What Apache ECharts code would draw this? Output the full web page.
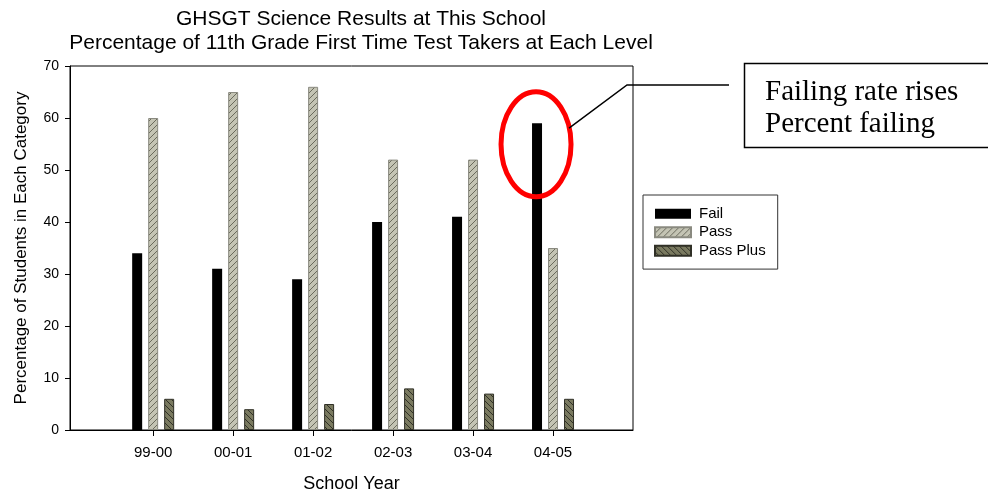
<!DOCTYPE html>
<html>
<head>
<meta charset="utf-8">
<script src="https://cdn.jsdelivr.net/npm/echarts@6/dist/echarts.min.js"></script>
<style>
  html, body { margin: 0; padding: 0; background: #fff; }
  #chart { width: 988px; height: 491px; }
</style>
</head>
<body>
<div id="chart"></div>
<script>
// School years on the x axis
var years = ['99-00', '00-01', '01-02', '02-03', '03-04', '04-05'];
// Percent of first-time 11th grade test takers at each level
var failPct = [34, 31, 29, 40, 41, 59];
var passPct = [60, 65, 66, 52, 52, 35];
var passPlusPct = [6, 4, 5, 8, 7, 6];
var yTicks = [0, 10, 20, 30, 40, 50, 60, 70];

// Hatched fills built on small tiles
function hatch(bg, fg, dir) {
  var c = document.createElement('canvas');
  c.width = 6; c.height = 6;
  var g = c.getContext('2d');
  g.fillStyle = bg; g.fillRect(0, 0, 6, 6);
  g.strokeStyle = fg; g.lineWidth = 1;
  g.beginPath();
  if (dir > 0) {
    g.moveTo(-1, 7); g.lineTo(7, -1);
    g.moveTo(-4, 4); g.lineTo(4, -4);
    g.moveTo(2, 10); g.lineTo(10, 2);
  } else {
    g.moveTo(-1, -1); g.lineTo(7, 7);
    g.moveTo(-4, 2); g.lineTo(4, 10);
    g.moveTo(2, -4); g.lineTo(10, 4);
  }
  g.stroke();
  return { image: c, repeat: 'repeat' };
}
var passFill = hatch('#c4c4b4', '#6a6a5c', 1);
var plusFill = hatch('#7a7a60', '#303026', -1);

function pts(arr) { return arr.map(function (v, i) { return [i, v]; }); }
var yearIdx = years.map(function (y, i) { return i; });

var chart = echarts.init(document.getElementById('chart'));
var font = '"Liberation Sans", Arial, sans-serif';

chart.setOption({
  animation: false,
  backgroundColor: '#fff',
  textStyle: { fontFamily: font },
  title: {
    text: 'GHSGT Science Results at This School\nPercentage of 11th Grade First Time Test Takers at Each Level',
    left: 361, top: 7, padding: 0, textAlign: 'center',
    textStyle: { fontFamily: font, fontSize: 21, fontWeight: 'normal', color: '#000', lineHeight: 24 }
  },
  legend: {
    orient: 'vertical',
    left: 643, top: 195,
    padding: [11.3, 12, 10.8, 11],
    itemWidth: 36, itemHeight: 10, itemGap: 3.5,
    icon: 'rect',
    borderColor: '#333', borderWidth: 1,
    textStyle: { fontFamily: font, fontSize: 15, lineHeight: 15, color: '#000', padding: [0, 0, 0, 3] },
    data: ['Fail', 'Pass', 'Pass Plus']
  },
  grid: {
    left: 70, right: 355, top: 66, bottom: 61,
    outerBoundsMode: 'none', containLabel: false,
    show: true, borderColor: '#000', borderWidth: 1
  },
  xAxis: {
    type: 'value',
    min: -1.04, max: 6,
    name: 'School Year', nameLocation: 'middle', nameGap: 45,
    nameTextStyle: { fontFamily: font, fontSize: 18, color: '#000' },
    axisLine: { onZero: false, lineStyle: { color: '#000' } },
    axisTick: { show: true, length: 6, customValues: yearIdx, lineStyle: { color: '#000' } },
    axisLabel: {
      fontFamily: font, fontSize: 15, color: '#000', margin: 15,
      customValues: yearIdx,
      formatter: function (v) { return years[Math.round(v)] || ''; }
    },
    splitLine: { show: false }
  },
  yAxis: {
    type: 'value',
    min: yTicks[0], max: yTicks[yTicks.length - 1], interval: 10,
    name: 'Percentage of Students in Each Category', nameLocation: 'middle', nameGap: 40,
    nameTextStyle: { fontFamily: font, fontSize: 17, color: '#000' },
    axisLine: { show: true, onZero: false, lineStyle: { color: '#000' } },
    axisTick: { show: true, length: 5, lineStyle: { color: '#000' } },
    axisLabel: { fontFamily: font, fontSize: 14, color: '#000', margin: 11 },
    splitLine: { show: false }
  },
  series: [
    {
      name: 'Fail', type: 'bar', data: pts(failPct),
      barWidth: 10, barGap: '60%',
      itemStyle: { color: '#000' }
    },
    {
      name: 'Pass', type: 'bar', data: pts(passPct),
      barWidth: 10, barGap: '60%',
      itemStyle: { color: passFill, borderColor: '#8a8a80', borderWidth: 1 }
    },
    {
      name: 'Pass Plus', type: 'bar', data: pts(passPlusPct),
      barWidth: 10, barGap: '60%',
      itemStyle: { color: plusFill, borderColor: '#303026', borderWidth: 1 }
    }
  ]
});

// Callout ringing the latest fail bar
var last = failPct.length - 1;
var barTop = chart.convertToPixel({ xAxisIndex: 0, yAxisIndex: 0 }, [last, failPct[last]]);
var ex = barTop[0] - 17, ey = barTop[1] + 21;
chart.setOption({
  graphic: [
    {
      type: 'ellipse', shape: { cx: ex, cy: ey, rx: 35, ry: 52.5 },
      style: { fill: 'none', stroke: '#ff0000', lineWidth: 5 }, z: 100
    },
    {
      type: 'polyline', shape: { points: [[ex + 33, ey - 16], [627, 85], [729, 85]] },
      style: { fill: 'none', stroke: '#000', lineWidth: 1.5 }, z: 100
    },
    {
      type: 'rect', shape: { x: 744.5, y: 63.5, width: 260, height: 84 },
      style: { fill: '#fff', stroke: '#000', lineWidth: 1.5 }, z: 100
    },
    {
      type: 'text', x: 765, y: 76,
      style: {
        text: 'Failing rate rises\nPercent failing',
        font: '29px "Liberation Serif", "Times New Roman", serif',
        lineHeight: 32.5, fill: '#000'
      }, z: 101
    }
  ]
});
</script>
</body>
</html>
